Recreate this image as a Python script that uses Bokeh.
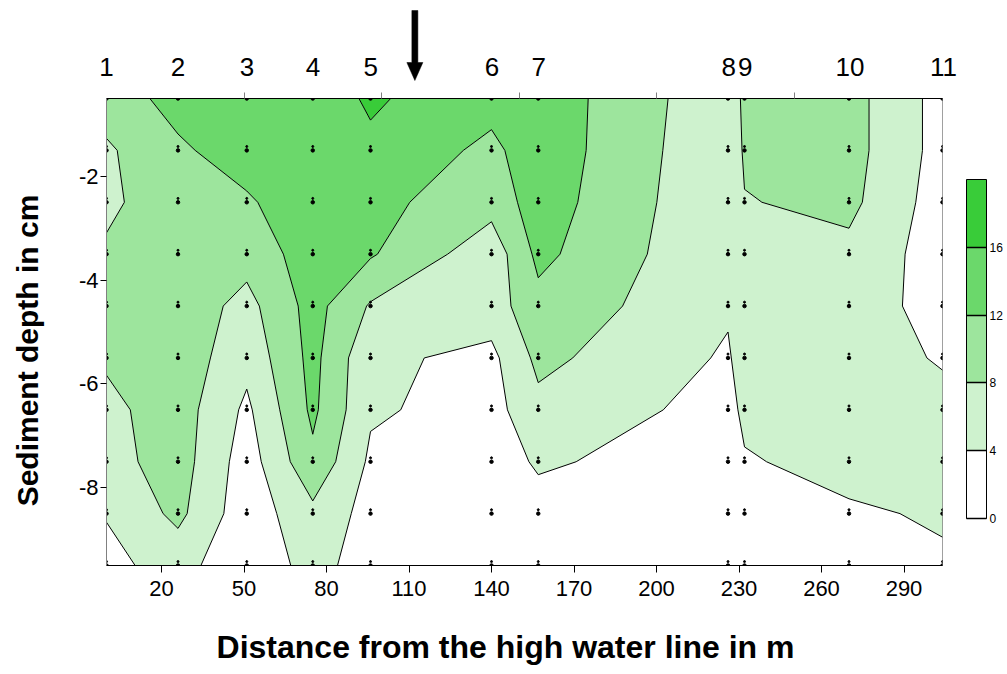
import numpy as np
from bokeh.plotting import figure
from bokeh.layouts import column, row
from bokeh.models import Range1d, LinearAxis, FixedTicker, ColorBar, LinearColorMapper
from bokeh.core.properties import value
from bokeh.embed import file_html
from bokeh.resources import INLINE

# ---- data -------------------------------------------------------------
station_x = [0, 26, 51, 75, 96, 140, 157, 226, 232, 270, 304]
station_labels = ["1", "2", "3", "4", "5", "6", "7", "8", "9", "10", "11"]
depths = [-0.5, -1.5, -2.5, -3.5, -4.5, -5.5, -6.5, -7.5, -8.5, -9.5]

# values per station, from top (-0.5 cm) to bottom (-9.5 cm)
st1 = [10.0, 7.4, 7.0, 8.7, 9.5, 8.5, 7.0, 6.5, 4.2, 3.0]
st2 = [13.3, 11.4, 11.0, 10.5, 10.5, 10.5, 10.0, 9.9, 9.0, 5.5]
st3 = [14.0, 13.8, 11.5, 9.5, 6.7, 5.2, 3.2, 2.0, 1.5, 1.0]
st4 = [14.0, 14.5, 14.5, 14.0, 13.5, 13.2, 12.8, 11.1, 7.0, 5.5]
st5 = [16.5, 15.3, 13.2, 12.4, 7.6, 4.8, 4.5, 3.3, 2.5, 2.0]
st6 = [13.5, 11.0, 9.5, 5.5, 6.0, 3.0, 2.5, 2.0, 1.5, 1.5]
st7 = [14.5, 14.5, 14.0, 13.0, 10.8, 9.0, 6.9, 4.5, 2.5, 2.0]
st8 = [5.0, 4.6, 4.4, 4.3, 4.5, 3.5, 2.5, 2.0, 1.8, 1.5]
st9 = [9.0, 8.6, 7.8, 7.0, 6.5, 6.0, 5.0, 3.6, 2.5, 2.0]
st10 = [9.5, 9.5, 9.0, 7.0, 6.0, 6.0, 5.5, 5.5, 3.4, 2.5]
st11 = [2.5, 2.5, 2.0, 2.0, 2.5, 3.6, 5.3, 5.0, 4.5, 3.4]

levels = [0, 4, 8, 12, 16, 20]
band_colors = ["#FFFFFF", "#CEF2CE", "#9DE59D", "#6BD86B", "#39CC39"]
x_ticks = [20, 50, 80, 110, 140, 170, 200, 230, 260, 290]
y_ticks = [-2, -4, -6, -8]
y_tick_labels = ["-2", "-4", "-6", "-8"]
top_minor_ticks = [50, 100, 150, 200, 250]
colorbar_ticks = [0, 4, 8, 12, 16]
arrow_x = 112
x_title = "Distance from the high water line in m"
y_title = "Sediment depth in cm"

FONT = "Liberation Sans"
X0, X1 = 0, 304
Y0, Y1 = -9.5, -0.5

# ---- layout geometry (pixels) -------------------------------------------
TOTAL_W, TOTAL_H = 1005, 672
LW = 58                      # left strip (y title)
W = TOTAL_W - LW             # width of the right column
HT = 90                      # strip above the plot (station numbers, arrow)
FRAME_L, FRAME_T, FW, FH = 106, 98, 837, 467
BL = FRAME_L - LW
BT = FRAME_T - HT
BR = W - BL - FW
BB = 44
HM = BT + FH + BB            # main figure height
HB = TOTAL_H - HT - HM       # bottom strip (x title)
xpx = (X1 - X0) / FW         # data units per pixel (x)


def bare(width, height, xr, yr):
    f = figure(width=width, height=height, x_range=xr, y_range=yr,
               output_backend="svg", toolbar_location=None,
               x_axis_location=None, y_axis_location=None,
               min_border_left=0, min_border_right=0, min_border_top=0, min_border_bottom=0)
    f.frame_align = False
    f.grid.visible = False
    f.outline_line_color = None
    return f


# ---- left strip: y title -----------------------------------------------
ly = bare(LW, TOTAL_H, Range1d(0, LW), Range1d(0, TOTAL_H))
ly.text(x=[27], y=[TOTAL_H - 350], text=[y_title], angle=np.pi / 2,
        text_align="center", text_baseline="middle", text_color="black",
        text_font=value(FONT), text_font_style="bold", text_font_size="30px")

# ---- strip above: station numbers and arrow ---------------------------
pt = bare(W, HT, Range1d(X0 - BL * xpx, X0 + (W - BL) * xpx), Range1d(0, HT))
pt.text(x=station_x, y=[HT - 66] * len(station_x), text=station_labels,
        text_align="center", text_baseline="alphabetic", text_color="black",
        text_font=value(FONT), text_font_size="26px")
pt.patch(x=[arrow_x - 3 * xpx, arrow_x + 3 * xpx, arrow_x + 3 * xpx, arrow_x + 8 * xpx,
            arrow_x, arrow_x - 8 * xpx, arrow_x - 3 * xpx],
         y=[HT - 10, HT - 10, HT - 62, HT - 62, HT - 80, HT - 62, HT - 62],
         fill_color="black", line_color="black", line_width=0.5)

# ---- main figure --------------------------------------------------------
p = figure(width=W, height=HM, x_range=Range1d(X0, X1), y_range=Range1d(Y0, Y1),
           output_backend="svg", toolbar_location=None,
           min_border_left=BL, min_border_right=BR, min_border_top=BT, min_border_bottom=BB)
p.frame_align = False
p.grid.visible = False
p.outline_line_color = "#808080"
p.background_fill_color = "white"
p.border_fill_color = "white"

z = np.array([st1, st2, st3, st4, st5, st6, st7, st8, st9, st10, st11]).T  # rows = depth
depth_asc = np.array(depths)[::-1]
z_asc = z[::-1, :]

cr = p.contour(np.array(station_x, dtype=float), depth_asc, z_asc, levels,
               fill_color=band_colors, line_color="black", line_width=1)

# sample points
XX, YY = np.meshgrid(station_x, depths)
p.scatter(XX.ravel(), YY.ravel(), size=3.5, color="black")
p.scatter(XX.ravel(), YY.ravel() + 0.075, size=2, color="black")

# bottom axis
xa = p.xaxis[0]
xa.ticker = FixedTicker(ticks=x_ticks)
xa.major_tick_out = 7
xa.major_tick_in = 0
xa.minor_tick_line_color = None
xa.axis_line_color = "black"
xa.major_label_standoff = 8
xa.major_label_text_font = FONT
xa.major_label_text_font_size = "22px"
xa.major_label_text_color = "black"

# left axis
ya = p.yaxis[0]
ya.ticker = FixedTicker(ticks=y_ticks)
ya.major_label_overrides = {t: s for t, s in zip(y_ticks, y_tick_labels)}
ya.major_tick_out = 6
ya.major_tick_in = 0
ya.minor_tick_line_color = None
ya.axis_line_color = "#808080"
ya.major_label_standoff = 2
ya.major_label_text_font = FONT
ya.major_label_text_font_size = "22px"
ya.major_label_text_color = "black"

# top axis line with small grey ticks
top = LinearAxis(ticker=FixedTicker(ticks=[], minor_ticks=top_minor_ticks),
                 major_tick_line_color=None, major_tick_out=0, major_tick_in=0,
                 minor_tick_line_color="#808080", minor_tick_out=6, minor_tick_in=0,
                 major_label_standoff=0, major_label_text_font_size="0px",
                 axis_line_color="black")
p.add_layout(top, "above")

# colour bar (bands of the contour levels, outlined, with level lines)
mapper = LinearColorMapper(palette=band_colors, low=levels[0], high=levels[-1])
cb = ColorBar(color_mapper=mapper, ticker=FixedTicker(ticks=colorbar_ticks),
              width=20, height=339, location=(24, 47), padding=0,
              bar_line_color="black", bar_line_width=1,
              major_tick_in=20, major_tick_out=0, major_tick_line_color="black",
              major_tick_line_width=1.5, minor_tick_line_color=None,
              label_standoff=3, major_label_text_font=FONT,
              major_label_text_font_size="12px", major_label_text_color="black",
              background_fill_color=None, border_line_color=None)
p.add_layout(cb, "right")

# ---- bottom strip: x title ------------------------------------------------
pb = bare(W, HB, Range1d(LW, TOTAL_W), Range1d(0, HB))
pb.text(x=[505], y=[TOTAL_H - 646], text=[x_title],
        text_align="center", text_baseline="alphabetic", text_color="black",
        text_font=value(FONT), text_font_style="bold", text_font_size="32px")

layout = row(ly, column(pt, p, pb, spacing=0), spacing=0)
open("out.html", "w").write(file_html(layout, INLINE, title="chart"))
